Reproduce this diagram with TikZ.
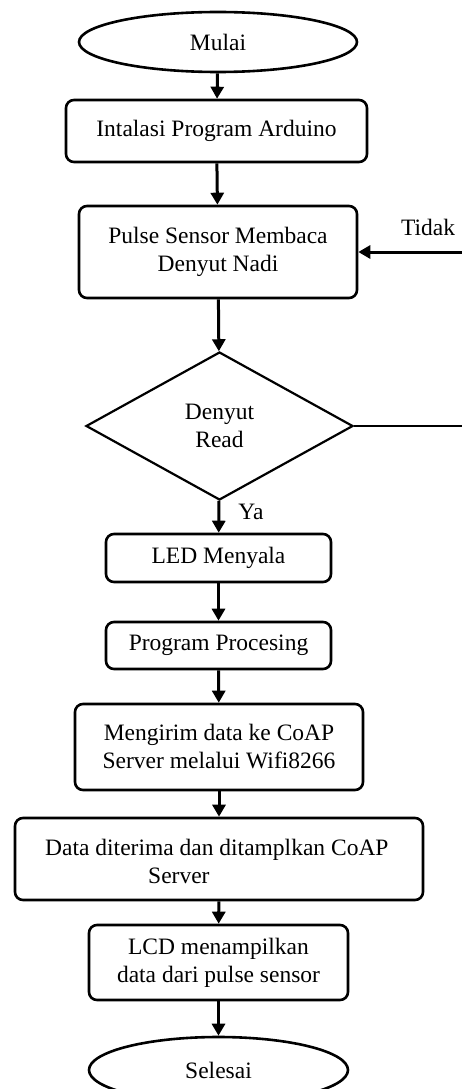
\documentclass[tikz,border=0pt]{standalone}
\usepackage{fontspec}
\setmainfont{Liberation Serif}
\usetikzlibrary{shapes.geometric,arrows.meta}
\begin{document}
\begin{tikzpicture}[x=1pt,y=-1pt,
  base/.style={draw=black,line width=2.6pt,font=\fontsize{23.5}{28}\selectfont,inner sep=0pt,align=center},
  procbox/.style={base,rounded corners=8pt,rectangle},
  term/.style={base,ellipse},
  decision/.style={base,diamond,line width=2.2pt},
  flow/.style={line width=3pt,-{Triangle[width=13pt,length=12pt]}},
  lbl/.style={font=\fontsize{23.5}{28}\selectfont,inner sep=0pt}]
\useasboundingbox (0,0) rectangle (462,1089);
\node[term,minimum width=278pt,minimum height=60pt] (mulai) at (218,42) {Mulai};
\node[procbox,minimum width=301pt,minimum height=62pt] (inst) at (216.5,131) {Intalasi Program Arduino};
\node[procbox,minimum width=278pt,minimum height=92pt] (pulse) at (218,252) {Pulse Sensor Membaca\\Denyut Nadi};
\node[decision,minimum width=267pt,minimum height=148pt] (dec) at (219.5,426) {Denyut\\Read};
\node[procbox,minimum width=225pt,minimum height=48pt] (led) at (218.5,558) {LED Menyala};
\node[procbox,minimum width=225pt,minimum height=47pt] (proc) at (218.5,645.5) {Program Procesing};
\node[procbox,minimum width=288pt,minimum height=86pt] (kirim) at (219,747) {Mengirim data ke CoAP\\Server melalui Wifi8266};
\node[procbox,minimum width=408pt,minimum height=82pt] (data) at (219,859) {};
\node[lbl,align=left,anchor=west] (datatxt) at (45,861) {Data diterima dan ditamplkan CoAP\\\hspace*{103pt}Server};
\node[procbox,minimum width=259pt,minimum height=75pt] (lcd) at (218.5,962.5) {LCD menampilkan\\data dari pulse sensor};
\node[term,minimum width=259pt,minimum height=66pt] (selesai) at (218.5,1070) {Selesai};
\node[lbl] (tidak) at (428,227) {Tidak};
\node[lbl] (ya) at (251,512) {Ya};
\coordinate (rin) at (462,252);
\coordinate (rout) at (462,426);
\draw[flow] (mulai) -- (inst);
\draw[flow] (inst) -- (pulse);
\draw[flow] (pulse) -- (dec);
\draw[flow] (dec) -- (led);
\draw[flow] (led) -- (proc);
\draw[flow] (proc) -- (kirim);
\draw[flow] (kirim) -- (data);
\draw[flow] (data) -- (lcd);
\draw[flow] (lcd) -- (selesai);
\draw[line width=1.3pt] (dec.east) -- (rout);
\draw[flow] (rin) -- (pulse.east);
\end{tikzpicture}
\end{document}
